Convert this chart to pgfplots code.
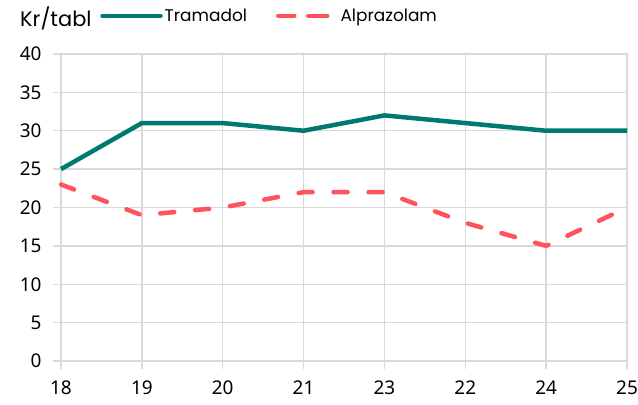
\documentclass[border=0pt]{standalone}
\usepackage{pgfplots}
\pgfplotsset{compat=1.18}
\usepackage{fontspec}
\setmainfont{Poppins}
\newfontfamily\tickfont{Noto Sans}
\definecolor{teal}{HTML}{007A70}
\definecolor{redd}{HTML}{FF525B}
\definecolor{gridg}{HTML}{D9D9D9}
\begin{document}
\begin{tikzpicture}
\begin{axis}[
  scale only axis,
  width=566bp, height=307bp,
  xmin=0, xmax=7, ymin=0, ymax=40,
  xtick={0,...,7},
  xticklabels={18,19,20,21,23,22,24,25},
  ytick={0,5,...,40},
  grid=major,
  grid style={gridg, line width=1.3bp},
  axis line style={gridg, line width=1.3bp},
  major tick style={gridg, line width=1.3bp},
  tick align=outside,
  major tick length=8bp,
  xtick pos=bottom, ytick pos=left,
  ticklabel style={font=\tickfont\fontsize{19}{20}\selectfont},
  /pgf/number format/assume math mode=true,
  yticklabel style={xshift=-8bp},
  xticklabel style={yshift=-8bp},
  legend columns=2,
  legend style={draw=none, fill=none, inner sep=0pt, font=\fontsize{17}{20}\selectfont,
    at={(axis description cs:0.069,1.124)}, anchor=west,
    /tikz/every even column/.append style={column sep=27bp}},
  legend cell align=left,
  clip=false,
]
\addplot[teal, line width=4.5bp, line join=round,
  legend image code/.code={\draw[teal, line width=4.5bp, line cap=round] (0bp,0) -- (58bp,0);}]
  coordinates {(0,25) (1,31) (2,31) (3,30) (4,32) (5,31) (6,30) (7,30)};
\addlegendentry{Tramadol}
\addplot[redd, line width=4.5bp, line cap=round, dash pattern=on 14bp off 21bp,
  legend image code/.code={\draw[redd, line width=4.5bp, line cap=round] (2bp,0) -- (16bp,0); \draw[redd, line width=4.5bp, line cap=round] (30bp,0) -- (44bp,0); \path (0,0) -- (58bp,0);}]
  coordinates {(0,23) (1,19) (2,20) (3,22) (4,22) (5,18) (6,15) (7,20)};
\addlegendentry{Alprazolam}
\node[anchor=base west, inner sep=0, font=\fontsize{21}{22}\selectfont] at ([xshift=-41bp, yshift=27bp]axis description cs:0,1) {Kr/tabl};
\coordinate (ll) at (rel axis cs:0,0);
\coordinate (ur) at (rel axis cs:1,1);
\end{axis}
\pgfresetboundingbox
\path[use as bounding box] ([shift={(-61bp,-44bp)}]ll) rectangle ([shift={(11bp,54bp)}]ur);
\end{tikzpicture}
\end{document}
